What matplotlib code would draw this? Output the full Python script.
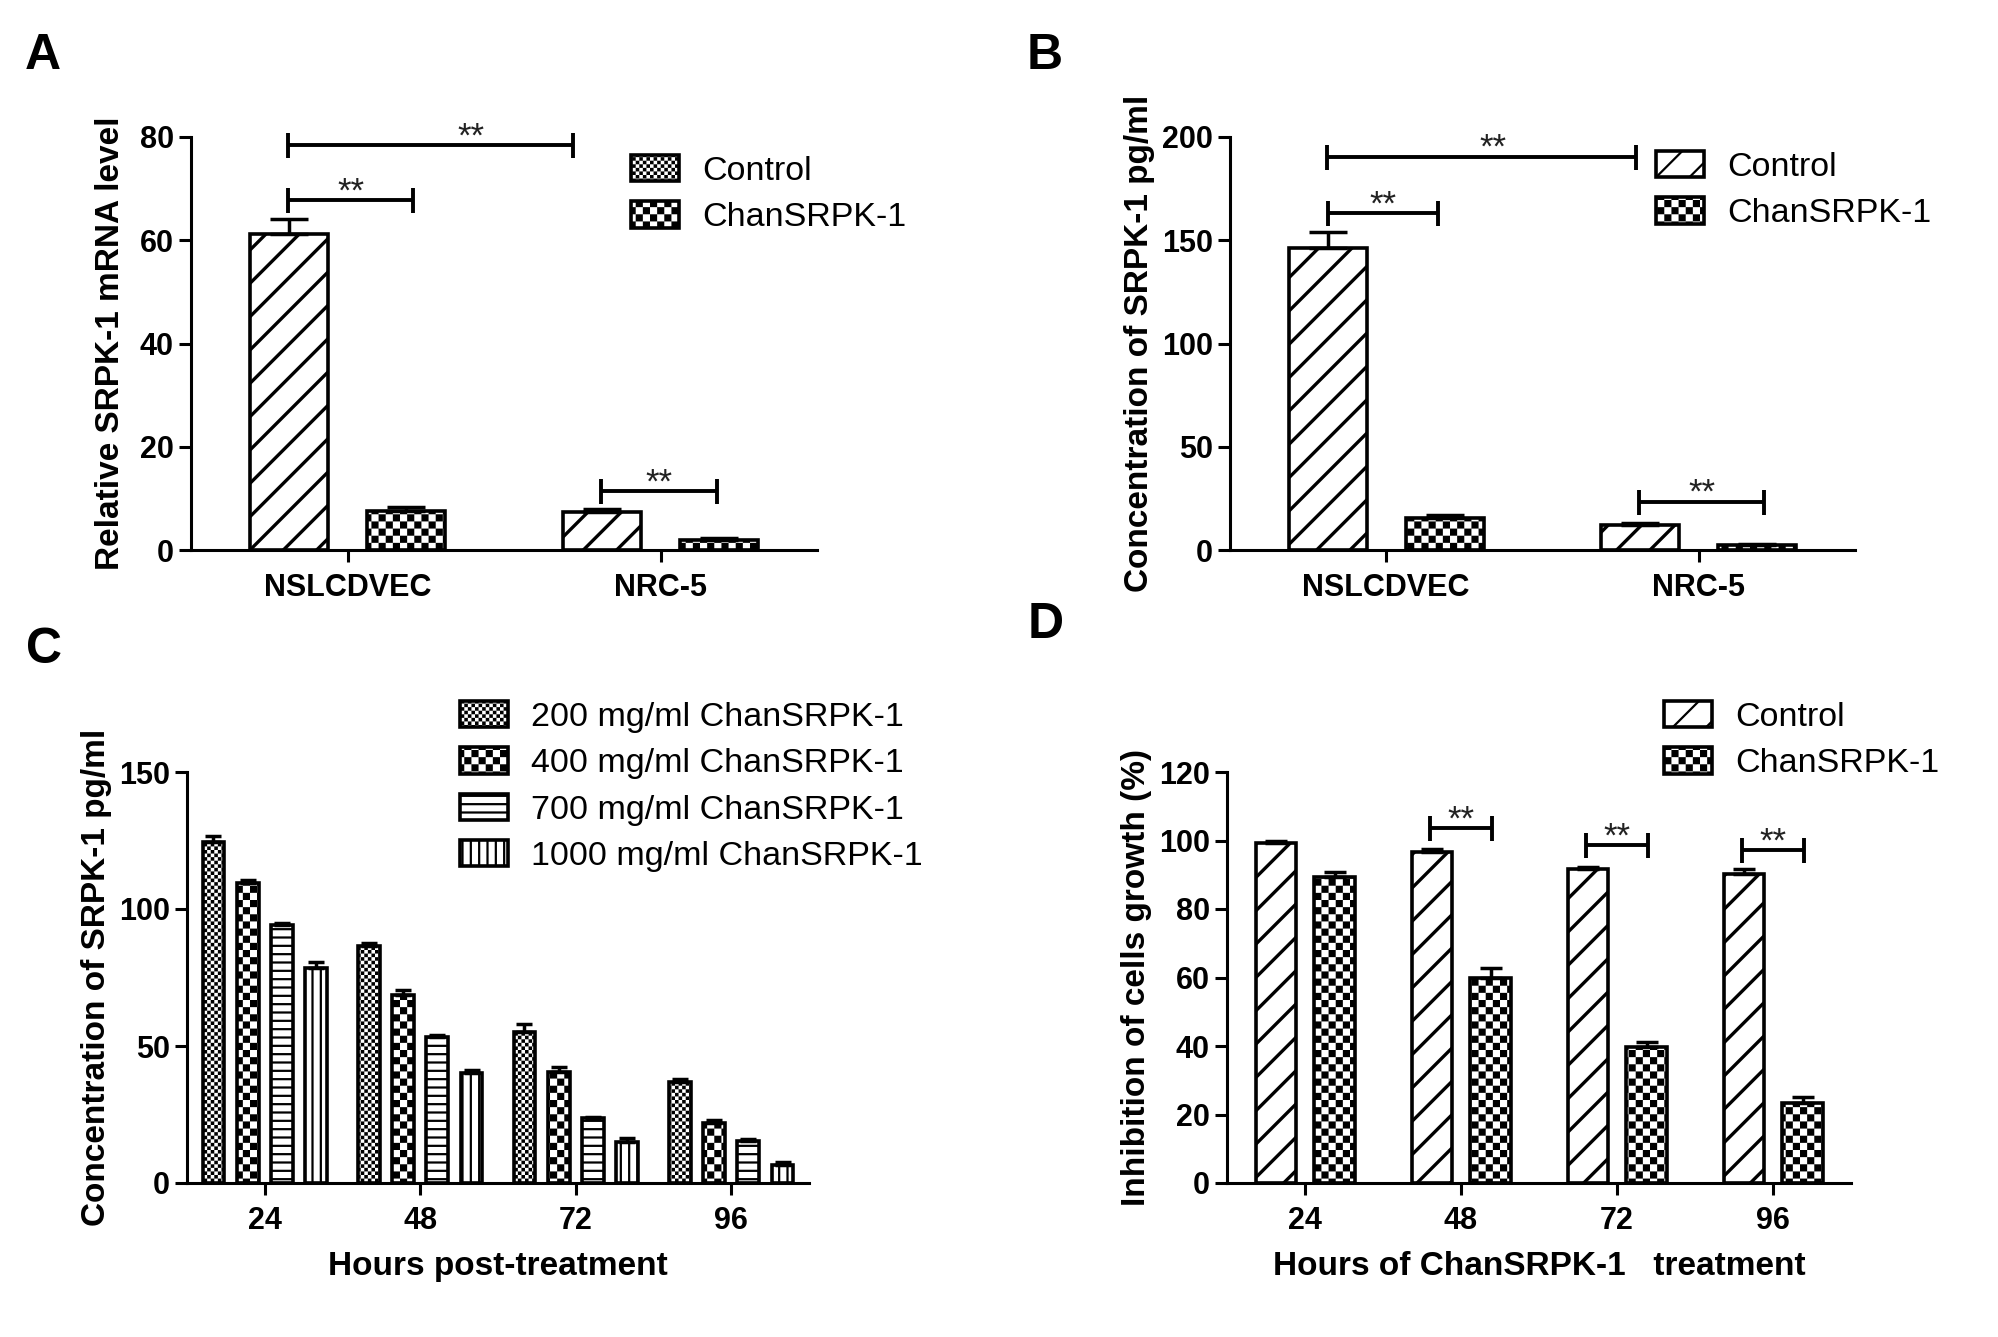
import numpy as np
import matplotlib
matplotlib.use("Agg")
import matplotlib.pyplot as plt
import matplotlib.hatch as mhatch
from matplotlib.path import Path
from matplotlib.patches import Patch

# ---------------- data ----------------
groups_ab = ["NSLCDVEC", "NRC-5"]
a_control = [61.2, 7.3]
a_control_err = [2.9, 0.6]
a_chan = [7.5, 2.0]
a_chan_err = [0.9, 0.4]
a_sig_y = [78.5, 67.7, 11.45]

b_control = [146.3, 12.1]
b_control_err = [7.5, 0.9]
b_chan = [15.6, 2.5]
b_chan_err = [1.2, 0.6]
b_sig_y = [190.5, 163.3, 23.4]

hours = ["24", "48", "72", "96"]
c_labels = ["200 mg/ml ChanSRPK-1", "400 mg/ml ChanSRPK-1",
            "700 mg/ml ChanSRPK-1", "1000 mg/ml ChanSRPK-1"]
c_200 = [124.6, 86.4, 55.1, 36.9]
c_200_err = [2.2, 1.3, 3.0, 1.2]
c_400 = [109.6, 68.7, 40.6, 22.0]
c_400_err = [1.0, 1.7, 1.7, 1.1]
c_700 = [94.3, 53.2, 23.6, 15.3]
c_700_err = [0.5, 0.9, 0.5, 0.7]
c_1000 = [78.4, 40.3, 14.8, 6.7]
c_1000_err = [2.3, 0.8, 1.8, 0.8]

d_control = [99.3, 96.6, 91.6, 90.3]
d_control_err = [0.6, 0.9, 0.8, 1.3]
d_chan = [89.2, 59.8, 39.7, 23.4]
d_chan_err = [1.6, 2.9, 1.4, 1.6]
d_sig_y = [103.7, 98.6, 97.3]   # for 48, 72, 96 h

# ---------------- checkerboard hatches ----------------
HATCH_LW = 1.6


class CheckerHatch(mhatch.HatchPatternBase):
    key = "o"
    cells = 14

    def __init__(self, hatch, density):
        n = self.cells
        on = hatch.count(self.key) > 0
        self.squares = [(i, j) for i in range(n) for j in range(n)
                        if (i + j) % 2 == 0] if on else []
        self.num_vertices = 5 * len(self.squares)

    def set_vertices_and_codes(self, vertices, codes):
        s = 1.0 / self.cells
        inset = HATCH_LW / 72 / 2
        k = 0
        for i, j in self.squares:
            x0, y0 = i * s + inset, j * s + inset
            x1, y1 = (i + 1) * s - inset, (j + 1) * s - inset
            vertices[k:k + 5] = [(x0, y0), (x1, y0), (x1, y1), (x0, y1), (x0, y0)]
            codes[k:k + 5] = [Path.MOVETO, Path.LINETO, Path.LINETO,
                              Path.LINETO, Path.CLOSEPOLY]
            k += 5


class FineCheckerHatch(CheckerHatch):
    key = "O"
    cells = 28


mhatch._hatch_types = [mhatch.HorizontalHatch, mhatch.VerticalHatch,
                       mhatch.NorthEastHatch, mhatch.SouthEastHatch,
                       CheckerHatch, FineCheckerHatch]

plt.rcParams["font.family"] = ["Liberation Sans", "DejaVu Sans"]
plt.rcParams["font.weight"] = "bold"
plt.rcParams["hatch.linewidth"] = HATCH_LW
plt.rcParams["hatch.color"] = "black"

W, H = 1998, 1337
fig = plt.figure(figsize=(W / 100, H / 100), dpi=100)


def box(l, r, t, b):
    return [l / W, 1 - b / H, (r - l) / W, (b - t) / H]


axA = fig.add_axes(box(191, 817, 137, 550))
axB = fig.add_axes(box(1230, 1855, 137, 550))
axC = fig.add_axes(box(187, 809, 772, 1183))
axD = fig.add_axes(box(1227, 1851, 772, 1183))

BAR = dict(facecolor="white", edgecolor="black", linewidth=2.6)
DIAG_LW = 2.4


def diag_bars(ax, xs, vals, width, **kw):
    # thicker lines for the diagonal hatch
    with plt.rc_context({"hatch.linewidth": DIAG_LW}):
        return ax.bar(xs, vals, width, hatch="/", **BAR, **kw)


def style(ax, ylim, yticks, ylabel, labelpad):
    for s in ["top", "right"]:
        ax.spines[s].set_visible(False)
    for s in ["left", "bottom"]:
        ax.spines[s].set_linewidth(2.2)
    ax.set_ylim(*ylim)
    ax.set_yticks(yticks)
    ax.tick_params(direction="out", length=8.5, width=2.2, labelsize=22)
    ax.tick_params(axis="y", pad=4)
    ax.tick_params(axis="x", pad=8)
    ax.set_ylabel(ylabel, fontsize=24, fontweight="bold", labelpad=labelpad)


def errs(ax, x, y, e, cap):
    ax.errorbar(x, y, yerr=[np.zeros(len(e)), e], fmt="none", ecolor="black",
                elinewidth=2.5, capsize=cap, capthick=2.5, zorder=3)


def bracket(ax, x1, x2, y, star_x=None):
    ax.plot([x1, x2], [y, y], color="black", lw=2.8, marker="|", ms=18,
            mew=2.8, clip_on=False, solid_capstyle="butt")
    sx = (x1 + x2) / 2 if star_x is None else star_x
    ax.annotate("**", (sx, y), xytext=(0, -1), textcoords="offset points",
                ha="center", va="baseline", fontsize=25, fontweight="normal",
                color="#222222", annotation_clip=False)


def legend(ax, handles, labels, x, y):
    ax.legend(handles, labels, loc="upper left", bbox_to_anchor=(x / W, 1 - y / H),
              bbox_transform=fig.transFigure, frameon=False, borderpad=0,
              borderaxespad=0, handlelength=1.4, handleheight=0.82,
              handletextpad=0.7, labelspacing=0.42,
              prop={"size": 24.5, "weight": "normal"})


# ---------------- A ----------------
x = np.arange(len(groups_ab))
diag_bars(axA, x - 0.1875, a_control, 0.25)
axA.bar(x + 0.1875, a_chan, 0.25, hatch="o", **BAR)
errs(axA, x - 0.1875, a_control, a_control_err, 14)
errs(axA, x + 0.1875, a_chan, a_chan_err, 14)
axA.set_xlim(-0.5, 1.5)
axA.set_xticks(x, groups_ab)
style(axA, (0, 80), [0, 20, 40, 60, 80], "Relative SRPK-1 mRNA level", 10)
bracket(axA, -0.19, 0.72, a_sig_y[0], star_x=0.395)
bracket(axA, -0.19, 0.21, a_sig_y[1])
bracket(axA, 0.81, 1.18, a_sig_y[2])
legend(axA, [Patch(hatch="O", **BAR), Patch(hatch="o", **BAR)],
       ["Control", "ChanSRPK-1"], 631, 155)

# ---------------- B ----------------
diag_bars(axB, x - 0.1875, b_control, 0.25, label="Control")
axB.bar(x + 0.1875, b_chan, 0.25, hatch="o", label="ChanSRPK-1", **BAR)
errs(axB, x - 0.1875, b_control, b_control_err, 14)
errs(axB, x + 0.1875, b_chan, b_chan_err, 14)
axB.set_xlim(-0.5, 1.5)
axB.set_xticks(x, groups_ab)
style(axB, (0, 200), [0, 50, 100, 150, 200], "Concentration of SRPK-1 pg/ml", 5)
bracket(axB, -0.19, 0.80, b_sig_y[0], star_x=0.34)
bracket(axB, -0.187, 0.164, b_sig_y[1])
bracket(axB, 0.81, 1.21, b_sig_y[2])
hB, lB = axB.get_legend_handles_labels()
legend(axB, hB, lB, 1656, 151)

# ---------------- C ----------------
xc = np.arange(len(hours))
c_series = [c_200, c_400, c_700, c_1000]
c_errs = [c_200_err, c_400_err, c_700_err, c_1000_err]
c_hatch = ["O", "o", "--", "||"]
c_off = [-0.33, -0.11, 0.11, 0.33]
for vals, ev, ht, off, lab in zip(c_series, c_errs, c_hatch, c_off, c_labels):
    axC.bar(xc + off, vals, 0.14, hatch=ht, label=lab, **BAR)
    errs(axC, xc + off, vals, ev, 6)
axC.set_xlim(-0.5, 3.5)
axC.set_xticks(xc, hours)
style(axC, (0, 150), [0, 50, 100, 150], "Concentration of SRPK-1 pg/ml", 5)
axC.set_xlabel("Hours post-treatment", fontsize=24, fontweight="bold", labelpad=11)
hC, lC = axC.get_legend_handles_labels()
legend(axC, hC, lC, 460, 701)

# ---------------- D ----------------
diag_bars(axD, xc - 0.185, d_control, 0.26, label="Control")
axD.bar(xc + 0.19, d_chan, 0.26, hatch="o", label="ChanSRPK-1", **BAR)
errs(axD, xc - 0.185, d_control, d_control_err, 8)
errs(axD, xc + 0.19, d_chan, d_chan_err, 8)
axD.set_xlim(-0.5, 3.5)
axD.set_xticks(xc, hours)
style(axD, (0, 120), [0, 20, 40, 60, 80, 100, 120], "Inhibition of cells growth (%)", 5)
axD.set_xlabel("Hours of ChanSRPK-1   treatment", fontsize=24, fontweight="bold",
               labelpad=11)
for i, yy in zip([1, 2, 3], d_sig_y):
    bracket(axD, i - 0.2, i + 0.2, yy)
hD, lD = axD.get_legend_handles_labels()
legend(axD, hD, lD, 1664, 701)

# ---------------- panel letters ----------------
for letter, lx, ly in [("A", 25, 69), ("B", 1027, 69), ("C", 26, 663), ("D", 1028, 638)]:
    fig.text(lx / W, 1 - ly / H, letter, fontsize=36, fontweight="bold",
             ha="left", va="baseline")

fig.savefig("out.png", dpi=100)
